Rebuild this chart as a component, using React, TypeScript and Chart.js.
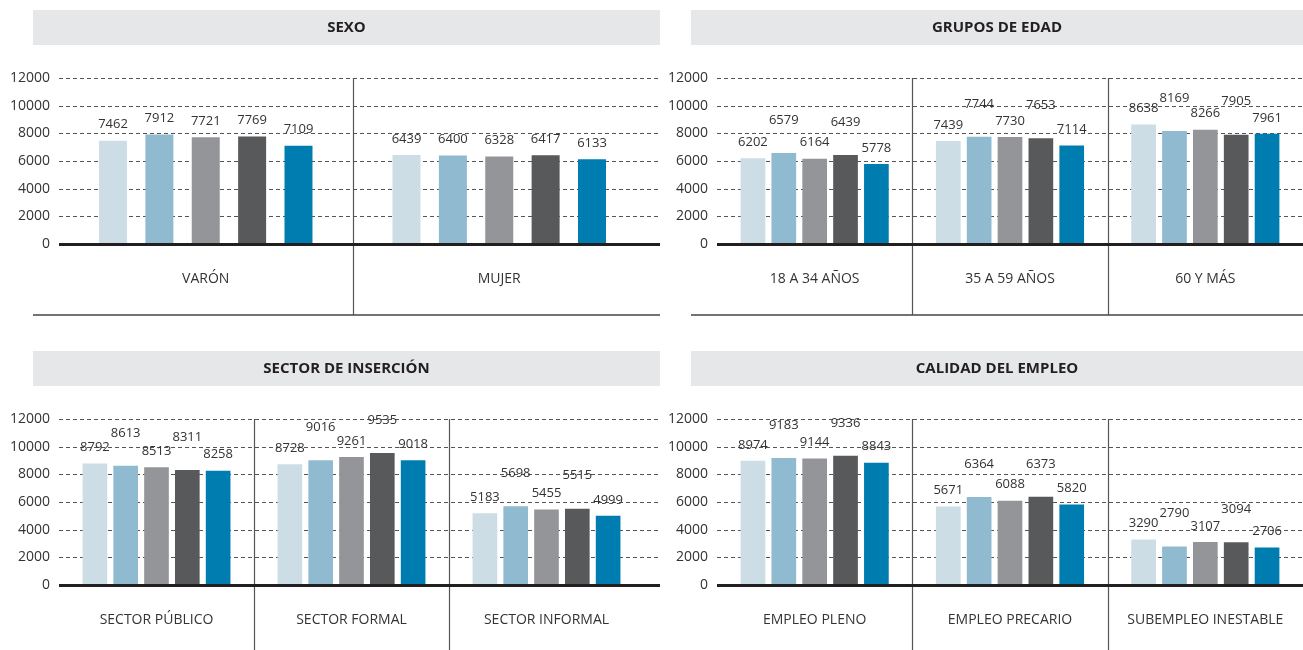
import React, { useEffect, useRef } from 'react';
import { Chart, registerables } from 'chart.js';

Chart.register(...registerables);

// ---------- DATA ----------
const yTickValues = [0, 2000, 4000, 6000, 8000, 10000, 12000];

const sexoTitle = 'SEXO';
const sexoCategories = ['VARÓN', 'MUJER'];
const sexoVaron = [7462, 7912, 7721, 7769, 7109];
const sexoMujer = [6439, 6400, 6328, 6417, 6133];

const edadTitle = 'GRUPOS DE EDAD';
const edadCategories = ['18 A 34 AÑOS', '35 A 59 AÑOS', '60 Y MÁS'];
const edad18a34 = [6202, 6579, 6164, 6439, 5778];
const edad35a59 = [7439, 7744, 7730, 7653, 7114];
const edad60mas = [8638, 8169, 8266, 7905, 7961];

const sectorTitle = 'SECTOR DE INSERCIÓN';
const sectorCategories = ['SECTOR PÚBLICO', 'SECTOR FORMAL', 'SECTOR INFORMAL'];
const sectorPublico = [8792, 8613, 8513, 8311, 8258];
const sectorFormal = [8728, 9016, 9261, 9535, 9018];
const sectorInformal = [5183, 5698, 5455, 5515, 4999];

const calidadTitle = 'CALIDAD DEL EMPLEO';
const calidadCategories = ['EMPLEO PLENO', 'EMPLEO PRECARIO', 'SUBEMPLEO INESTABLE'];
const empleoPleno = [8974, 9183, 9144, 9336, 8843];
const empleoPrecario = [5671, 6364, 6088, 6373, 5820];
const subempleoInestable = [3290, 2790, 3107, 3094, 2706];

// ---------- STYLE ----------
const seriesColors = ['#ccdde5', '#8fbad0', '#939598', '#58595b', '#007db0'];
const FONT = '"Open Sans", "DejaVu Sans", sans-serif';
const TEXT = '#333333';

type PanelProps = {
  title: string;
  categories: string[];
  rows: number[][]; // one row per category, 5 series values
  left: number;
  top: number;
  width: number;
  height: number;
  headerLeft: number;
  plotLeft: number;
  plotRight: number;
  bottomLine: boolean;
};

const CHART_TOP = 78;
const CHART_BOTTOM = 244;

function Panel(p: PanelProps) {
  const ref = useRef<HTMLCanvasElement | null>(null);

  useEffect(() => {
    if (!ref.current) return;
    const nSeries = p.rows[0].length;
    const datasets = Array.from({ length: nSeries }, (_, s) => ({
      label: 'S' + (s + 1),
      data: p.rows.map((r) => r[s]),
      backgroundColor: seriesColors[s],
      borderWidth: 0,
      categoryPercentage: 0.79,
      barPercentage: 0.8,
      maxBarThickness: 28,
    }));

    const decor = {
      id: 'decor',
      beforeDatasetsDraw(chart: any) {
        const { ctx, chartArea } = chart;
        const xs = chart.scales.x;
        const ys = chart.scales.y;
        const W = chart.width;
        const H = chart.height;
        ctx.save();
        // header
        ctx.fillStyle = '#e6e7e8';
        ctx.fillRect(p.headerLeft, 10, W - p.headerLeft, 35);
        ctx.fillStyle = '#231f20';
        ctx.font = 'bold 15px ' + FONT;
        ctx.textAlign = 'center';
        ctx.textBaseline = 'middle';
        ctx.fillText(p.title, (p.headerLeft + W) / 2, 28);

        // dashed gridlines
        ctx.strokeStyle = '#555555';
        ctx.lineWidth = 1;
        ctx.setLineDash([4, 3]);
        ys.ticks.forEach((t: any) => {
          if (t.value === 0) return;
          const y = Math.round(ys.getPixelForValue(t.value)) + 0.5;
          ctx.beginPath();
          ctx.moveTo(chartArea.left, y);
          ctx.lineTo(W, y);
          ctx.stroke();
        });
        ctx.setLineDash([]);

        // separators
        const sepBottom = p.bottomLine ? 315 : H;
        ctx.strokeStyle = '#555555';
        ctx.lineWidth = 1.2;
        for (let i = 1; i < p.categories.length; i++) {
          const x = Math.round((xs.getPixelForValue(i - 1) + xs.getPixelForValue(i)) / 2) + 0.5;
          ctx.beginPath();
          ctx.moveTo(x, chartArea.top);
          ctx.lineTo(x, sepBottom);
          ctx.stroke();
        }

        // bottom line
        if (p.bottomLine) {
          ctx.strokeStyle = '#444444';
          ctx.lineWidth = 1.5;
          ctx.beginPath();
          ctx.moveTo(p.headerLeft, 315);
          ctx.lineTo(W, 315);
          ctx.stroke();
        }

        // category labels
        ctx.fillStyle = TEXT;
        ctx.font = '14px ' + FONT;
        ctx.textAlign = 'center';
        ctx.textBaseline = 'middle';
        p.categories.forEach((c, i) => {
          ctx.fillText(c, xs.getPixelForValue(i), chartArea.bottom + 35);
        });
        ctx.restore();
      },
      afterDatasetsDraw(chart: any) {
        const { ctx, chartArea } = chart;
        const ys = chart.scales.y;
        const W = chart.width;
        ctx.save();
        // zero line
        const y0 = Math.round(ys.getPixelForValue(0));
        ctx.fillStyle = '#231f20';
        ctx.fillRect(chartArea.left, y0 - 1, W - chartArea.left, 3);

        // value labels
        ctx.font = '13px ' + FONT;
        ctx.fillStyle = TEXT;
        ctx.textAlign = 'center';
        ctx.textBaseline = 'middle';
        const m0 = chart.getDatasetMeta(0).data;
        const m1 = chart.getDatasetMeta(1).data;
        const slot = Math.abs(m1[0].x - m0[0].x);
        const labelW = ctx.measureText('8888').width;
        const stagger = slot < labelW + 6;
        chart.data.datasets.forEach((ds: any, s: number) => {
          const meta = chart.getDatasetMeta(s);
          meta.data.forEach((bar: any, i: number) => {
            const lift = 16 + (stagger && s % 2 === 1 ? 17 : 0);
            ctx.fillText(String(ds.data[i]), bar.x, bar.y - lift);
          });
        });
        ctx.restore();
      },
    };

    const chart = new Chart(ref.current, {
      type: 'bar',
      data: { labels: p.categories, datasets },
      options: {
        animation: false,
        responsive: false,
        devicePixelRatio: 1,
        layout: {
          padding: {
            top: CHART_TOP,
            bottom: p.height - CHART_BOTTOM,
            left: 0,
            right: p.width - p.plotRight,
          },
        },
        plugins: {
          legend: { display: false },
          tooltip: { enabled: false },
          title: { display: false },
        },
        scales: {
          x: {
            display: false,
            offset: true,
          },
          y: {
            min: 0,
            max: 12000,
            afterBuildTicks: (scale: any) => {
              scale.ticks = yTickValues.map((v) => ({ value: v }));
            },
            afterFit: (scale: any) => {
              scale.width = p.plotLeft;
            },
            grid: { display: false, drawTicks: false },
            border: { display: false },
            ticks: {
              padding: 9,
              color: TEXT,
              font: { family: FONT, size: 14 },
              callback: (v: any) => String(v),
            },
          },
        },
      },
      plugins: [decor],
    } as any);

    return () => chart.destroy();
  }, []);

  return (
    <canvas
      ref={ref}
      width={p.width}
      height={p.height}
      style={{ position: 'absolute', left: p.left, top: p.top, width: p.width, height: p.height }}
    />
  );
}

export default function App() {
  return (
    <div
      style={{
        position: 'absolute',
        left: 0,
        top: 0,
        width: 1303,
        height: 650,
        background: '#ffffff',
        overflow: 'hidden',
      }}
    >
      <Panel
        title={sexoTitle}
        categories={sexoCategories}
        rows={[sexoVaron, sexoMujer]}
        left={0}
        top={0}
        width={660}
        height={325}
        headerLeft={33}
        plotLeft={59}
        plotRight={646}
        bottomLine={true}
      />
      <Panel
        title={edadTitle}
        categories={edadCategories}
        rows={[edad18a34, edad35a59, edad60mas]}
        left={660}
        top={0}
        width={643}
        height={325}
        headerLeft={31}
        plotLeft={57}
        plotRight={643}
        bottomLine={true}
      />
      <Panel
        title={sectorTitle}
        categories={sectorCategories}
        rows={[sectorPublico, sectorFormal, sectorInformal]}
        left={0}
        top={341}
        width={660}
        height={309}
        headerLeft={33}
        plotLeft={59}
        plotRight={644}
        bottomLine={false}
      />
      <Panel
        title={calidadTitle}
        categories={calidadCategories}
        rows={[empleoPleno, empleoPrecario, subempleoInestable]}
        left={660}
        top={341}
        width={643}
        height={309}
        headerLeft={31}
        plotLeft={57}
        plotRight={643}
        bottomLine={false}
      />
    </div>
  );
}
